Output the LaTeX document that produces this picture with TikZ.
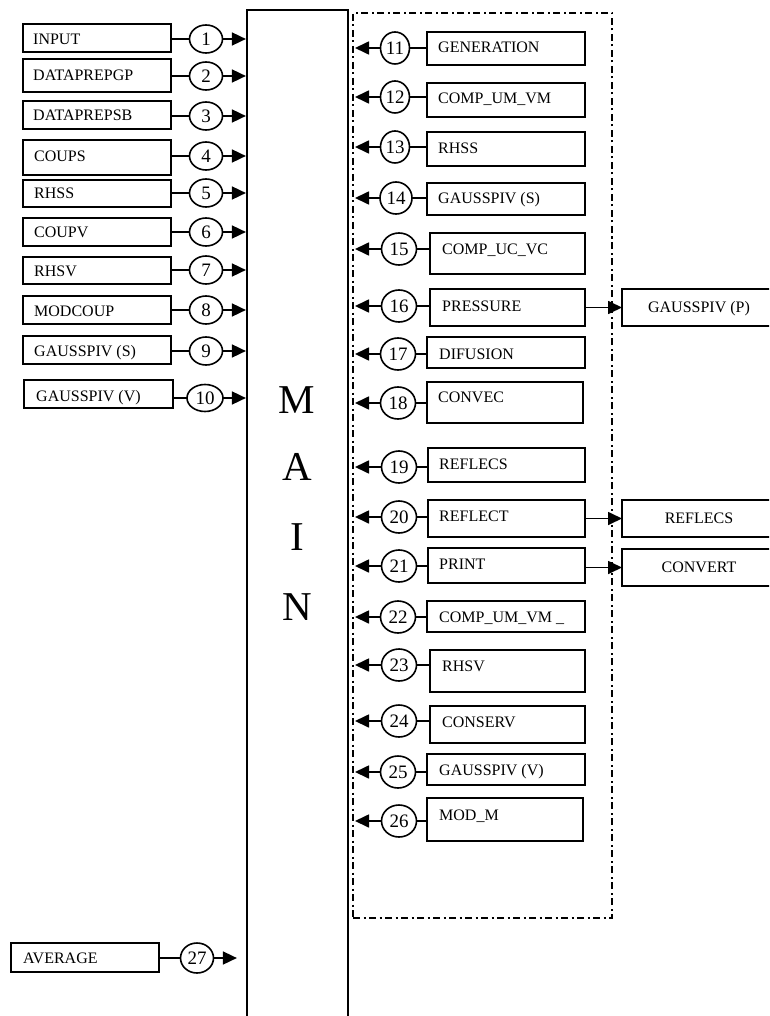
\documentclass[tikz,border=0pt]{standalone}
\usepackage{fontspec}
\setmainfont{Liberation Serif}
\usetikzlibrary{arrows.meta,shapes.geometric}
\tikzset{
  pb/.style={draw, line width=1.8pt, rectangle, inner sep=0pt, outer sep=0pt},
  lbl/.style={anchor=base west, inner sep=0pt, font=\fontsize{16}{18}\selectfont},
  ctext/.style={font=\fontsize{16}{18}\selectfont, text height=10.6pt, text depth=0pt},
  cnum/.style={draw, ellipse, line width=1.6pt, inner sep=0pt, outer sep=0pt, minimum height=28pt, minimum width=33pt, font=\fontsize{19}{20}\selectfont},
  rnum/.style={cnum, minimum height=32pt, minimum width=35pt},
  conn/.style={line width=1.7pt},
  arr/.style={line width=1.7pt, -{Triangle[length=14pt,width=13pt]}},
  bigl/.style={inner sep=0pt, font=\fontsize{41}{41}\selectfont},
  frm/.style={draw, line width=1.7pt, dash pattern=on 7pt off 3.5pt on 2pt off 3.5pt, inner sep=0pt, outer sep=0pt},
}
% name, x1, y1, x2, y2, text x, text cap-centre y, text
\newcommand\pbox[8]{%
  \node[pb, minimum width={(#4-#2)*1pt}, minimum height={(#5-#3)*1pt}] (#1) at ({(#2+#4)/2},{(#3+#5)/2}) {};
  \node[lbl] (#1t) at (#6,{#7+5.3}) {#8};
}
\begin{document}
\begin{tikzpicture}[x=1pt,y=-1pt]
\useasboundingbox (0,0) rectangle (769,1016);
\clip (0,0) rectangle (769,1016);

% MAIN block (open at the bottom)
\node[draw, line width=2.2pt, inner sep=0pt, minimum width=101pt, minimum height=1040pt] (main) at (297.5,530) {};
\node[bigl] (mM) at (297,400) {M};
\node[bigl] (mA) at (297,467) {A};
\node[bigl] (mI) at (297,537) {I};
\node[bigl] (mN) at (297,607) {N};

% dash-dotted frame
\node[frm, minimum width=259pt, minimum height=905pt] (frame) at (482.5,465.5) {};

% ---------------- left column ----------------
\pbox{b1}{23}{24}{171}{52}{33}{39}{INPUT}
\pbox{b2}{23}{59}{171}{92}{33}{75.5}{DATAPREPGP}
\pbox{b3}{23}{101}{171}{129}{33}{115.5}{DATAPREPSB}
\pbox{b4}{23}{140}{171}{175}{34}{156}{COUPS}
\pbox{b5}{23}{180}{171}{207}{34}{193}{RHSS}
\pbox{b6}{23}{218}{171}{246}{34}{232}{COUPV}
\pbox{b7}{23}{257}{171}{284}{34}{271}{RHSV}
\pbox{b8}{23}{296}{171}{324}{34}{311}{MODCOUP}
\pbox{b9}{23}{336}{171}{364}{34}{351.5}{GAUSSPIV (S)}
\pbox{b10}{24}{380}{173}{408}{36}{396}{GAUSSPIV (V)}
\pbox{b27}{11}{943}{159}{972}{23}{958.5}{AVERAGE}

\node[cnum] (c1) at (206,39) {1};
\node[cnum] (c2) at (206,76) {2};
\node[cnum] (c3) at (206,116) {3};
\node[cnum] (c4) at (206,156) {4};
\node[cnum] (c5) at (206,193) {5};
\node[cnum] (c6) at (206,232) {6};
\node[cnum] (c7) at (206,270) {7};
\node[cnum] (c8) at (206,310) {8};
\node[cnum] (c9) at (206,351) {9};
\node[cnum, minimum width=36pt, minimum height=27pt] (c10) at (205,398) {10};
\node[cnum, minimum height=30pt] (c27) at (197,958) {27};

\foreach \i in {1,...,10}{
  \draw[conn] (b\i.east |- c\i.west) -- (c\i.west);
  \draw[arr] (c\i.east) -- (c\i.east -| main.west);
}
\draw[conn] (b27.east |- c27.west) -- (c27.west);
\draw[arr] (c27.east) -- ([xshift=-9pt]c27.east -| main.west);

% ---------------- right column ----------------
\pbox{b11}{427}{32}{585}{65}{438}{47.5}{GENERATION}
\pbox{b12}{427}{83}{585}{117}{438}{98.5}{COMP\_UM\_VM}
\pbox{b13}{427}{132}{585}{166}{438}{148.5}{RHSS}
\pbox{b14}{427}{183}{585}{215}{438}{198}{GAUSSPIV (S)}
\pbox{b15}{430}{233}{585}{274}{442}{249}{COMP\_UC\_VC}
\pbox{b16}{430}{289}{585}{326}{442}{306}{PRESSURE}
\pbox{b17}{427}{337}{585}{368}{439}{354}{DIFUSION}
\pbox{b18}{427}{382}{583}{423}{438}{397.5}{CONVEC}
\pbox{b19}{428}{448}{585}{482}{439}{464}{REFLECS}
\pbox{b20}{428}{500}{585}{537}{439}{516}{REFLECT}
\pbox{b21}{428}{548}{585}{583}{439}{564}{PRINT}
\pbox{b22}{427}{601}{585}{632}{439}{617.5}{COMP\_UM\_VM \_}
\pbox{b23}{430}{650}{585}{692}{442}{666.5}{RHSV}
\pbox{b24}{430}{706}{585}{743}{442}{722}{CONSERV}
\pbox{b25}{427}{754}{585}{785}{439}{770.5}{GAUSSPIV (V)}
\pbox{b26}{427}{798}{583}{841}{439}{815.5}{MOD\_M}

\node[rnum, minimum width=29pt] (c11) at (395,48) {11};
\node[rnum, minimum width=29pt] (c12) at (395,97) {12};
\node[rnum, minimum width=29pt] (c13) at (395,147) {13};
\node[rnum, minimum width=32pt] (c14) at (396,198) {14};
\node[rnum] (c15) at (399,249) {15};
\node[rnum] (c16) at (399,306) {16};
\node[rnum] (c17) at (398,354) {17};
\node[rnum] (c18) at (398,403) {18};
\node[rnum] (c19) at (399,467) {19};
\node[rnum] (c20) at (399,517) {20};
\node[rnum] (c21) at (399,566) {21};
\node[rnum] (c22) at (398,617) {22};
\node[rnum] (c23) at (399,665) {23};
\node[rnum] (c24) at (399,721) {24};
\node[rnum] (c25) at (398,772) {25};
\node[rnum] (c26) at (399,821) {26};

\foreach \i in {11,...,26}{
  \draw[conn] (c\i.east) -- (b\i.west |- c\i.east);
  \draw[arr] (c\i.west) -- ([xshift=2pt]c\i.west -| frame.west);
}

% called routines outside the frame
\node[pb, ctext, minimum width=154pt, minimum height=37pt] (p16) at (699,307.5) {GAUSSPIV (P)};
\node[pb, ctext, minimum width=154pt, minimum height=37pt] (p20) at (699,518.5) {REFLECS};
\node[pb, ctext, minimum width=154pt, minimum height=37pt] (p21) at (699,567.5) {CONVERT};
\draw[arr] (b16.east |- p16.west) -- (p16.west);
\draw[arr] (b20.east |- p20.west) -- (p20.west);
\draw[arr] (b21.east |- p21.west) -- (p21.west);
\end{tikzpicture}
\end{document}
